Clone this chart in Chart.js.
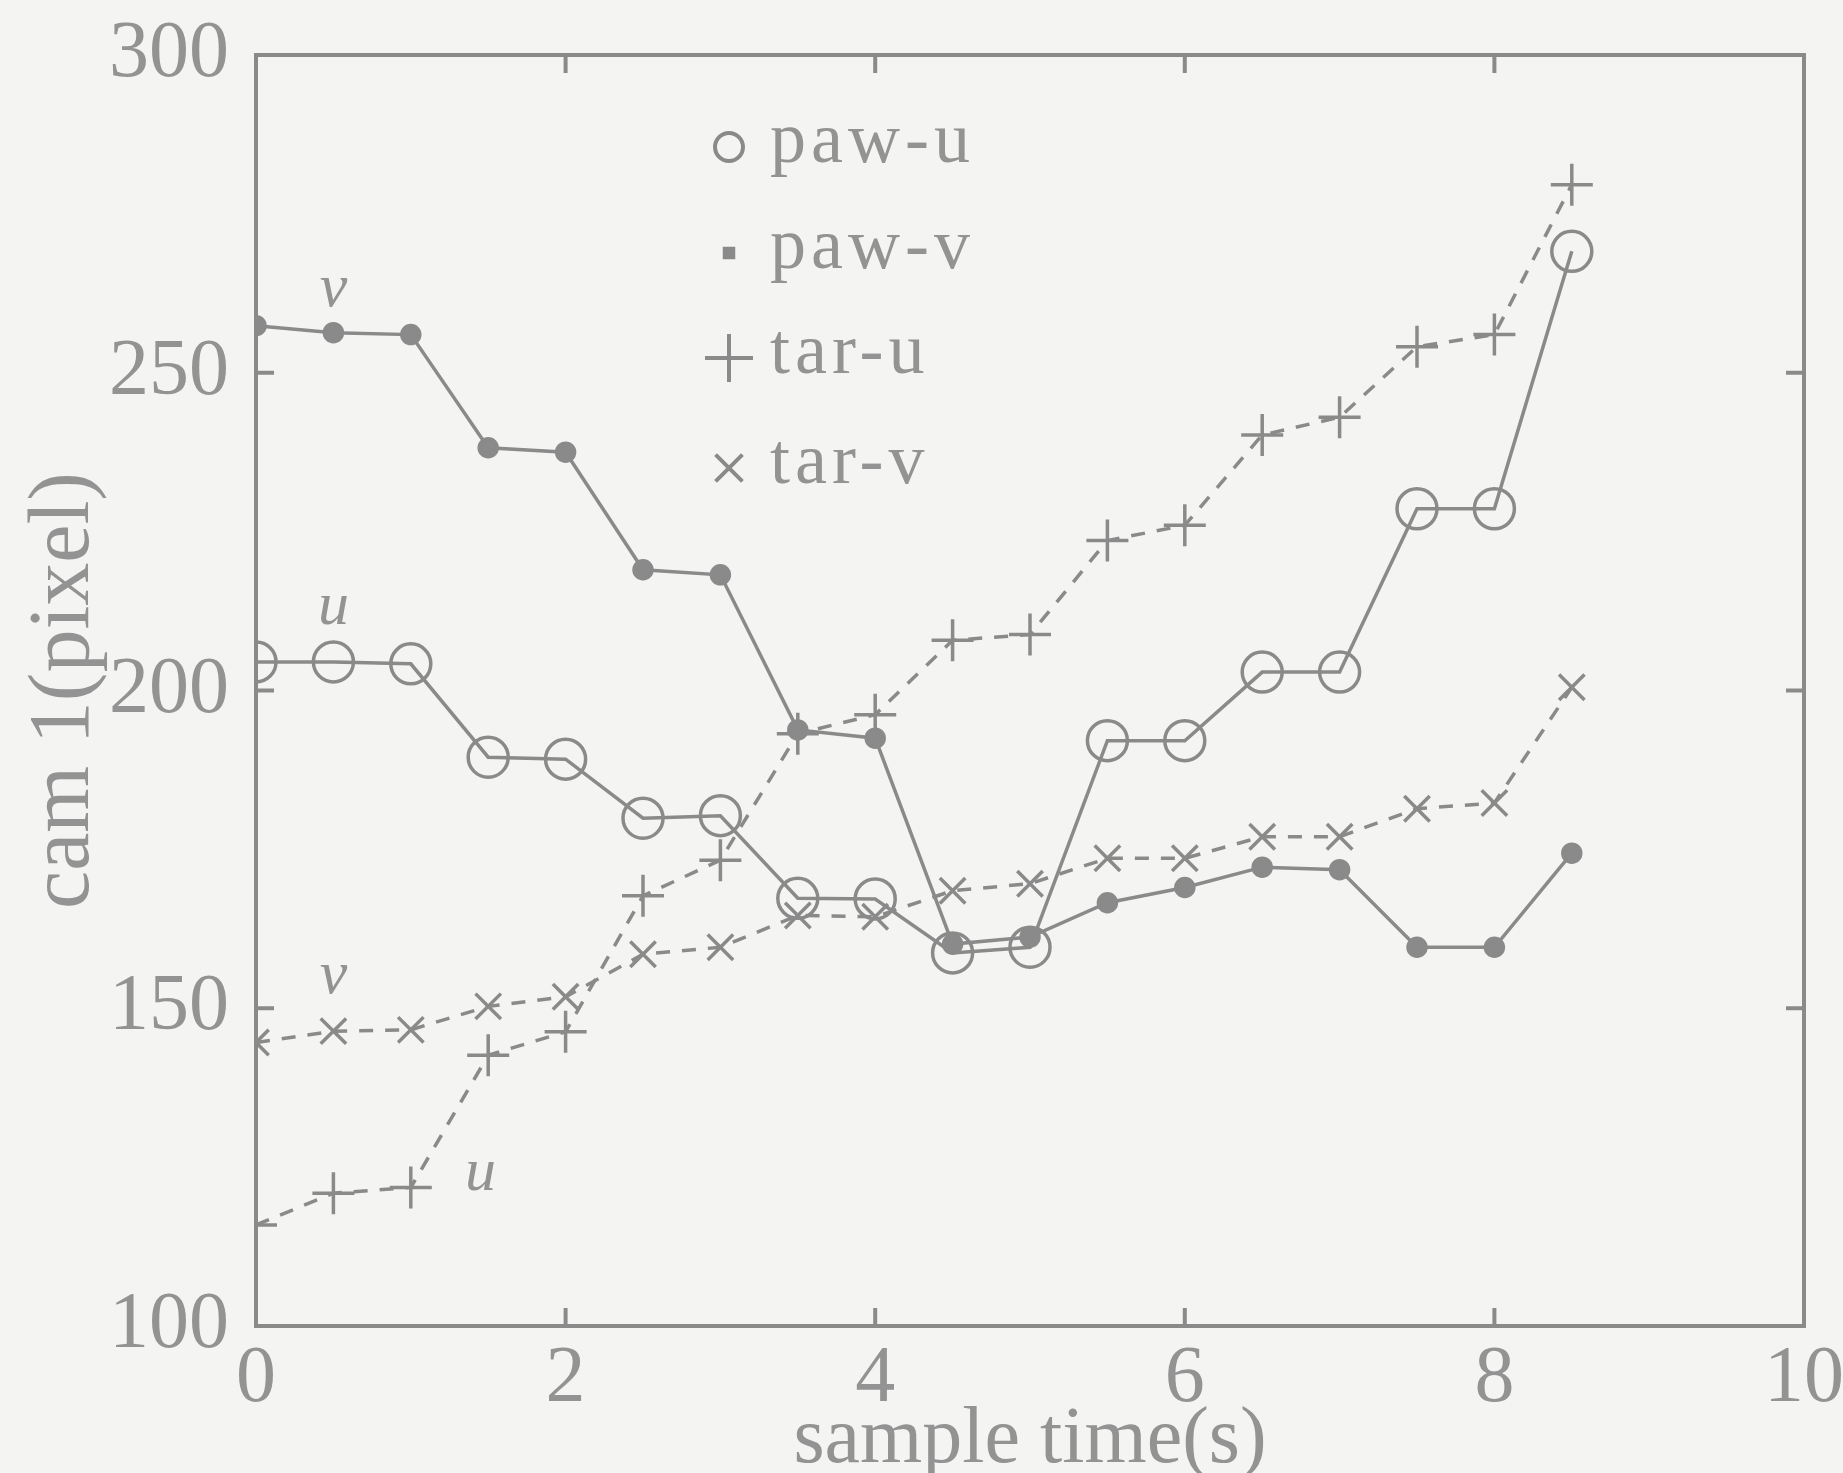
<!DOCTYPE html>
<html>
<head>
<meta charset="utf-8">
<script src="https://cdn.jsdelivr.net/npm/chart.js@4.4.1/dist/chart.umd.min.js"></script>
<style>
  html, body { margin: 0; padding: 0; background: #f4f4f2; overflow: hidden; }
  #grafico { display: block; }
</style>
</head>
<body>
<canvas id="grafico" width="1843" height="1473"></canvas>
<script>
// datos
const tiempos = [0, 0.5, 1, 1.5, 2, 2.5, 3, 3.5, 4, 4.5, 5, 5.5, 6, 6.5, 7, 7.5, 8, 8.5];
const pawU = [204.5, 204.5, 204.2, 189.5, 189.2, 179.9, 180.3, 167.3, 167.2, 158.7, 159.6, 192.1, 192.1, 202.9, 202.9, 228.6, 228.6, 269.1];
const pawV = [257.4, 256.3, 256.0, 238.2, 237.5, 219.0, 218.2, 193.8, 192.5, 160.1, 161.2, 166.6, 169.0, 172.2, 171.8, 159.6, 159.6, 174.4];
const tarU = [115.9, 120.9, 121.8, 142.6, 146.3, 167.7, 173.3, 193.2, 196.2, 207.9, 208.8, 223.6, 226.0, 240.2, 243.0, 254.1, 256.0, 279.6];
const tarV = [144.6, 146.4, 146.6, 150.3, 151.8, 158.5, 159.6, 164.6, 164.4, 168.5, 169.6, 173.6, 173.6, 177.0, 177.0, 181.4, 182.3, 200.5];

const nombresSeries = ["paw-u", "paw-v", "tar-u", "tar-v"];
const ticksX = [0, 2, 4, 6, 8, 10];
const ticksY = [100, 150, 200, 250, 300];

// etiquetas u / v dentro del grafico
const notasTexto = ["v", "u", "v", "u"];
const notasX = [0.5, 0.5, 0.5, 1.45];
const notasY = [263, 213, 155, 124];

const TINTA = "#8a8a8a";
const TEXTO = "#939393";
const FUENTE = "'Liberation Serif', 'DejaVu Serif', serif";

const puntos = (ys) => tiempos.map((t, i) => ({ x: t, y: ys[i] }));

const marcoYMarcas = {
  id: "marcoYMarcas",
  afterDatasetsDraw(chart) {
    const { ctx, chartArea: a, scales } = chart;
    ctx.save();
    ctx.strokeStyle = TINTA;
    ctx.lineWidth = 4;
    ctx.strokeRect(a.left, a.top, a.right - a.left, a.bottom - a.top);
    const largo = 18;
    ctx.beginPath();
    ticksX.slice(1, -1).forEach((v) => {
      const px = scales.x.getPixelForValue(v);
      ctx.moveTo(px, a.bottom); ctx.lineTo(px, a.bottom - largo);
      ctx.moveTo(px, a.top); ctx.lineTo(px, a.top + largo);
    });
    ticksY.slice(1, -1).forEach((v) => {
      const py = scales.y.getPixelForValue(v);
      ctx.moveTo(a.left, py); ctx.lineTo(a.left + largo, py);
      ctx.moveTo(a.right, py); ctx.lineTo(a.right - largo, py);
    });
    ctx.stroke();

    // notas u / v en cursiva
    ctx.fillStyle = TEXTO;
    ctx.font = "italic 62px " + FUENTE;
    ctx.textAlign = "center";
    ctx.textBaseline = "middle";
    notasTexto.forEach((txt, i) => {
      ctx.fillText(txt, scales.x.getPixelForValue(notasX[i]), scales.y.getPixelForValue(notasY[i]));
    });

    // leyenda dentro del area
    const simboloX = a.left + 473;
    const textoX = a.left + 514;
    const filas = [92, 198, 303, 413];
    const radios = [14, 6, 24, 19];
    ctx.textAlign = "left";
    ctx.font = "72px " + FUENTE;
    ctx.letterSpacing = "5px";
    chart.data.datasets.forEach((ds, i) => {
      const y = a.top + filas[i];
      ctx.strokeStyle = TINTA;
      ctx.fillStyle = i === 0 ? "rgba(0,0,0,0)" : TINTA;
      ctx.lineWidth = 4;
      Chart.helpers.drawPoint(ctx, {
        pointStyle: i === 1 ? "rect" : ds.pointStyle,
        radius: radios[i],
        rotation: 0,
        borderWidth: 4
      }, simboloX, y);
      ctx.fillStyle = TEXTO;
      ctx.fillText(ds.label, textoX, y - 4);
    });
    ctx.restore();
  }
};

const serie = (etiqueta, ys, estilo, radio, relleno, guiones) => ({
  label: etiqueta,
  data: puntos(ys),
  borderColor: TINTA,
  borderWidth: 3.5,
  borderDash: guiones,
  pointStyle: estilo,
  pointRadius: radio,
  pointBorderWidth: 3.5,
  pointBorderColor: TINTA,
  pointBackgroundColor: relleno,
  tension: 0
});

new Chart(document.getElementById("grafico"), {
  type: "line",
  data: {
    datasets: [
      serie(nombresSeries[0], pawU, "circle", 20, "rgba(0,0,0,0)", []),
      serie(nombresSeries[1], pawV, "circle", 9, TINTA, []),
      serie(nombresSeries[2], tarU, "cross", 21, TINTA, [14, 12]),
      serie(nombresSeries[3], tarV, "crossRot", 18, TINTA, [14, 12])
    ]
  },
  options: {
    responsive: false,
    animation: false,
    layout: { padding: { top: 55, right: 39, left: 0, bottom: 0 } },
    plugins: { legend: { display: false }, tooltip: { enabled: false } },
    scales: {
      x: {
        type: "linear",
        min: 0,
        max: 10,
        afterBuildTicks: (s) => { s.ticks = ticksX.map((v) => ({ value: v })); },
        afterFit: (s) => { s.height = 147; s.paddingLeft = 0; s.paddingRight = 0; },
        grid: { display: false, drawTicks: false },
        border: { display: false },
        ticks: { color: TEXTO, padding: 6, font: { family: FUENTE, size: 80 }, maxRotation: 0 },
        title: {
          display: true,
          text: "sample time(s)",
          color: TEXTO,
          font: { family: FUENTE, size: 80, lineHeight: 1.0 },
          padding: { top: 0, bottom: -8 }
        }
      },
      y: {
        min: 100,
        max: 300,
        afterBuildTicks: (s) => { s.ticks = ticksY.map((v) => ({ value: v })); },
        afterFit: (s) => { s.width = 256; s.paddingTop = 0; s.paddingBottom = 0; },
        grid: { display: false, drawTicks: false },
        border: { display: false },
        ticks: { color: TEXTO, padding: 27, font: { family: FUENTE, size: 80 } },
        title: {
          display: true,
          text: "cam 1(pixel)",
          color: TEXTO,
          font: { family: FUENTE, size: 86, lineHeight: 1.0 },
          padding: { top: 22, bottom: 0 }
        }
      }
    }
  },
  plugins: [marcoYMarcas]
});
</script>
</body>
</html>
